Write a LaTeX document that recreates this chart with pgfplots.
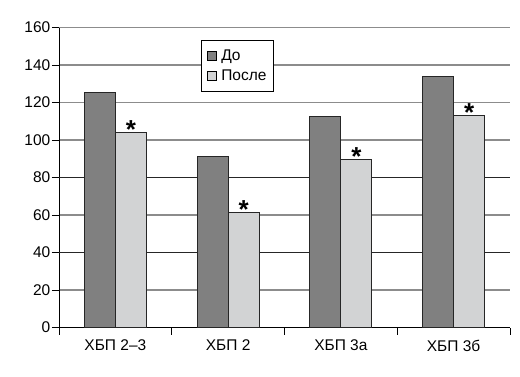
\documentclass[border=0pt]{standalone}
\usepackage{fontspec}
\setmainfont{Liberation Sans}
\usepackage{pgfplots}
\pgfplotsset{compat=1.18}
\definecolor{dogray}{HTML}{808080}
\definecolor{postgray}{HTML}{D2D3D4}
\definecolor{gridgray}{HTML}{8C8C8C}
\begin{document}
\begin{tikzpicture}
\path[use as bounding box] (0pt,0pt) rectangle (520pt,376pt);
\begin{axis}[
  at={(59pt,48.5pt)}, anchor=south west,
  scale only axis, width=451pt, height=300pt,
  xmin=-0.5, xmax=3.5, ymin=0, ymax=160,
  ytick={0,20,...,160},
  xtick={0,1,2,3},
  xticklabels={ХБП 2–3, ХБП 2, ХБП 3а, ХБП 3б},
  minor xtick={-0.5,0.5,1.5,2.5,3.5},
  major x tick style={draw=none},
  axis lines=left,
  axis line style={-, black, line width=0.9pt},
  tick align=outside,
  major tick length=7pt, minor tick length=7pt,
  tick style={black, line width=0.9pt},
  ymajorgrids,
  grid style={gridgray, line width=1.3pt},
  extra y ticks={40,80}, extra y tick labels={},
  extra y tick style={grid style={black!85, line width=1.1pt}},
  ybar=0pt, bar width=31pt,
  /pgf/number format/assume math mode=true,
  tick label style={font=\fontsize{15.5}{17}\selectfont},
  yticklabel style={inner xsep=1.5pt},
  xticklabel style={yshift=-2pt},
  legend style={at={(rel axis cs:0.315,0.957)}, anchor=north west,
    draw=black, line width=0.9pt, inner xsep=5pt, inner ysep=7pt,
    font=\fontsize{15.5}{17}\selectfont, row sep=4pt,
    cells={anchor=west}},
  legend image code/.code={\draw[#1, draw=black, line width=0.7pt] (0pt,-4pt) rectangle (9pt,5pt); \path (12pt,0pt);},
]
\addplot[fill=dogray, draw=black!85, line width=0.8pt] coordinates {(0,125.4) (1,91.3) (2,112.6) (3,134.0)};
\addplot[fill=postgray, draw=black!85, line width=0.8pt,
  nodes near coords={*},
  nodes near coords style={font=\fontsize{26}{26}\selectfont\bfseries, anchor=base, inner sep=0pt, yshift=-6pt, black}]
  coordinates {(0,103.9) (1,61.2) (2,89.5) (3,113.3)};
\legend{До, После}
\end{axis}
\end{tikzpicture}
\end{document}
